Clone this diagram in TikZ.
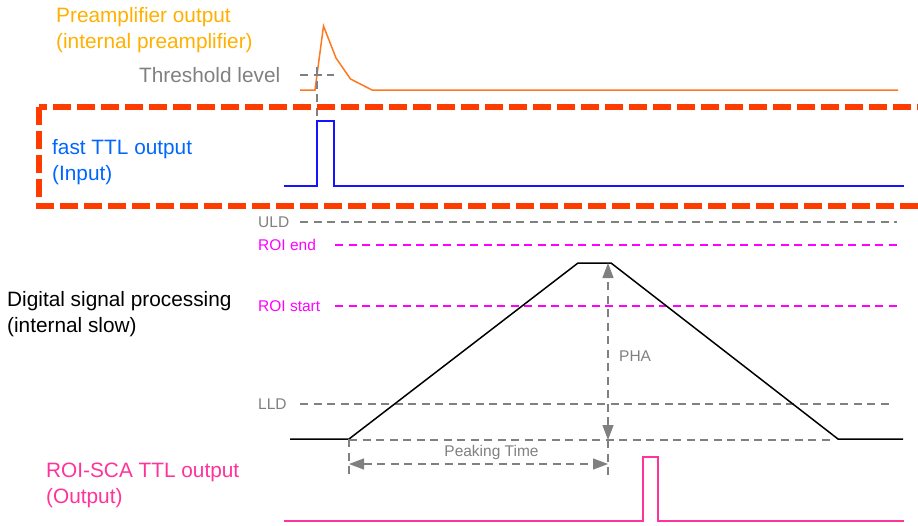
\documentclass[tikz,border=0pt]{standalone}
\usepackage{fontspec}
\setmainfont{Liberation Sans}
\usetikzlibrary{arrows.meta}

\definecolor{preamptext}{RGB}{255,176,0}
\definecolor{preampline}{RGB}{255,120,30}
\definecolor{boxred}{RGB}{255,60,0}
\definecolor{fasttext}{RGB}{0,102,255}
\definecolor{fastline}{RGB}{20,20,255}
\definecolor{roimag}{RGB}{255,0,255}
\definecolor{scapink}{RGB}{255,51,153}
\definecolor{levelgray}{RGB}{128,128,128}

\tikzset{
  biglabel/.style={anchor=base west, inner sep=0pt, align=left,
    font=\fontsize{20.8}{25.5}\selectfont},
  smalllabel/.style={anchor=west, inner sep=0pt,
    font=\fontsize{15.5}{18}\selectfont},
  level/.style={line width=1.3pt, dash pattern=on 8pt off 5.5pt},
  wave/.style={line width=1.5pt},
  dimarrow/.style={levelgray, level,
    {Triangle[length=15pt,width=11pt]}-{Triangle[length=15pt,width=11pt]}}
}

\begin{document}
\begin{tikzpicture}[x=1pt, y=-1pt]
	\useasboundingbox (0,0) rectangle (918,525);
	% preamplifier
	\node[biglabel, text=preamptext] (preamp) at (56,48) {Preamplifier output\\(internal preamplifier)};
	\node[biglabel, text=levelgray] (thr) at (139,82) {Threshold level};
	\draw [wave, preampline] (300,90) -- (315,90) -- (323.5,26) -- (336,58) -- (350.5,79) -- (372,90) -- (898,90);
	\draw [level, levelgray] (300,75) -- (334,75);
	\draw [level, levelgray] (317,67) -- (317,120);
	% fast TTL input
	\draw [line width=6pt, boxred, dash pattern=on 18pt off 6pt] (39,107) rectangle (940,206);
	\node[biglabel, text=fasttext] (fast) at (52,180) {fast TTL output\\(Input)};
	\draw [line width=2pt, fastline] (284,186) -- (317,186) -- (317,121) -- (334,121) -- (334,186) -- (904,186);
	% levels
	\node[smalllabel, text=levelgray] (uld) at (258,222) {ULD};
	\draw [level, levelgray] (300,222) -- (897,222);
	\node[smalllabel, text=roimag] (roiend) at (258,245) {ROI end};
	\draw [level, roimag] (335,245) -- (900,245);
	\node[smalllabel, text=roimag] (roistart) at (258,306) {ROI start};
	\draw [level, roimag] (335,306) -- (900,306);
	\node[smalllabel, text=levelgray] (lld) at (258,404) {LLD};
	\draw [level, levelgray] (300,404) -- (893,404);
	% slow shaping
	\node[biglabel] (dsp) at (7,332) {Digital signal processing\\(internal slow)};
	\coordinate (start) at (349,439);
	\coordinate (peakl) at (578,263);
	\coordinate (peakr) at (611,263);
	\coordinate (stop) at (838,439);
	\draw [wave] (290,439) -- (start) -- (peakl) -- (peakr) -- (stop) -- (903,439);
	\coordinate (phatop) at (608,263);
	\coordinate (phabot) at (608,440);
	\draw [level, levelgray] (349,440) -- (830,440);
	\draw [dimarrow] (phabot) -- (phatop);
	\draw [level, levelgray] (phabot) -- (608,477);
	\node[smalllabel, text=levelgray] (pha) at (619,356) {PHA};
	\draw [level, levelgray] (start) -- (349,477);
	\coordinate (ptl) at (349,464);
	\coordinate (ptr) at (608,464);
	\draw [dimarrow] (ptl) -- (ptr);
	\node[smalllabel, anchor=center, text=levelgray] (peaking) at (491.5,452) {Peaking Time};
	% ROI-SCA output
	\node[biglabel, text=scapink] (sca) at (46,503) {ROI-SCA TTL output\\(Output)};
	\draw [line width=2pt, scapink] (284,521) -- (643,521) -- (643,457) -- (658,457) -- (658,521) -- (904,521);
\end{tikzpicture}
\end{document}
